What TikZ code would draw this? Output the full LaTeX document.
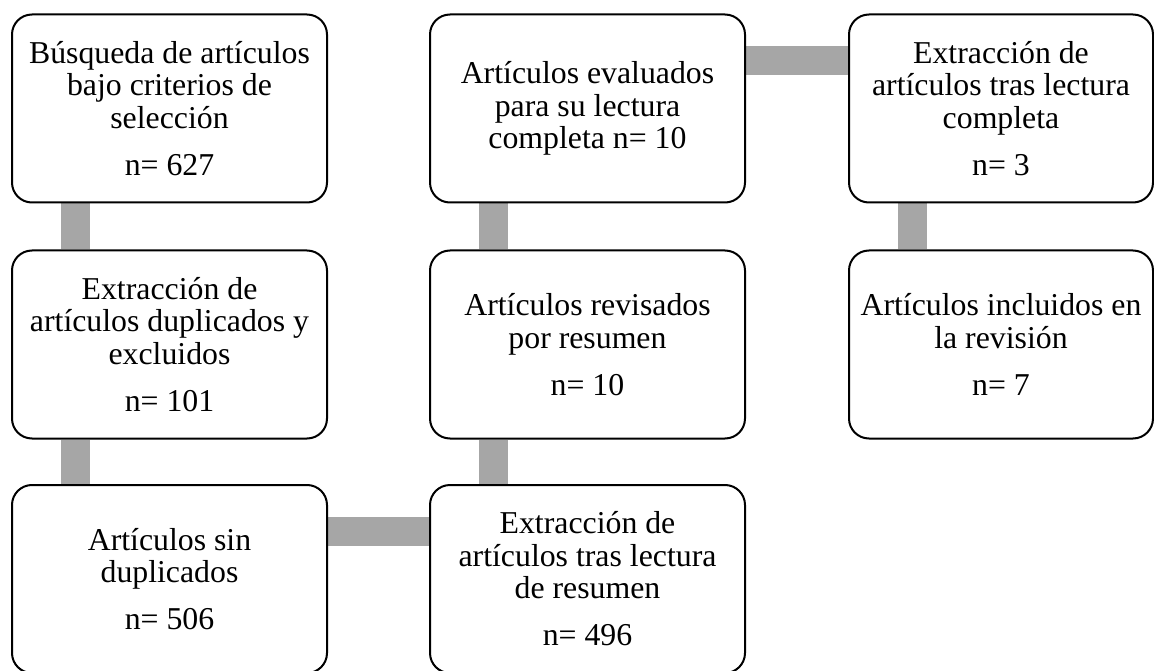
\documentclass[tikz,border=0pt]{standalone}
\usepackage{fontspec}
\setmainfont{Liberation Serif}
\usetikzlibrary{backgrounds}
\definecolor{bargray}{HTML}{A6A6A6}
\begin{document}
\begin{tikzpicture}[x=1pt,y=-1pt]
\tikzstyle{box} = [draw, line width=2pt, rounded corners=20pt, fill=white, minimum width=315pt, minimum height=188pt, align=center, font=\fontsize{31.8}{32.5}\selectfont];
\tikzstyle{bar} = [draw=bargray, line width=29pt];

\useasboundingbox (0,0) rectangle (1154,671);

% first column
\node[box] (busqueda) at (169.5,108.5) {B\'usqueda de art\'iculos\\bajo criterios de\\selecci\'on\\[14.5pt]n= 627};
\node[box] (duplicados) at (169.5,344.5) {Extracci\'on de\\art\'iculos duplicados y\\excluidos\\[14.5pt]n= 101};
\node[box] (sinduplicados) at (169.5,579) {Art\'iculos sin\\duplicados\\[14.5pt]n= 506};

% second column
\node[box] (evaluados) at (587.5,108.5) {Art\'iculos evaluados\\para su lectura\\completa n= 10};
\node[box] (revisados) at (587.5,344.5) {Art\'iculos revisados\\por resumen\\[14.5pt]n= 10};
\node[box] (extresumen) at (587.5,579) {Extracci\'on de\\art\'iculos tras lectura\\de resumen\\[14.5pt]n= 496};

% third column
\node[box, minimum width=304pt] (extcompleta) at (1001,108.5) {Extracci\'on de\\art\'iculos tras lectura\\completa\\[14.5pt]n= 3};
\node[box, minimum width=304pt] (incluidos) at (1001,344.5) {Art\'iculos incluidos en\\la revisi\'on\\[14.5pt]n= 7};

\begin{scope}[on background layer]
\draw[bar] ([xshift=64pt]busqueda.south west) -- ([xshift=64pt]duplicados.north west);
\draw[bar] ([xshift=64pt]duplicados.south west) -- ([xshift=64pt]sinduplicados.north west);
\draw[bar] ([yshift=-47pt]sinduplicados.north east) -- ([yshift=-47pt]extresumen.north west);
\draw[bar] ([xshift=64pt]extresumen.north west) -- ([xshift=64pt]revisados.south west);
\draw[bar] ([xshift=64pt]revisados.north west) -- ([xshift=64pt]evaluados.south west);
\draw[bar] ([yshift=-47pt]evaluados.north east) -- ([yshift=-47pt]extcompleta.north west);
\draw[bar] ([xshift=64pt]extcompleta.south west) -- ([xshift=64pt]incluidos.north west);
\end{scope}
\end{tikzpicture}
\end{document}
